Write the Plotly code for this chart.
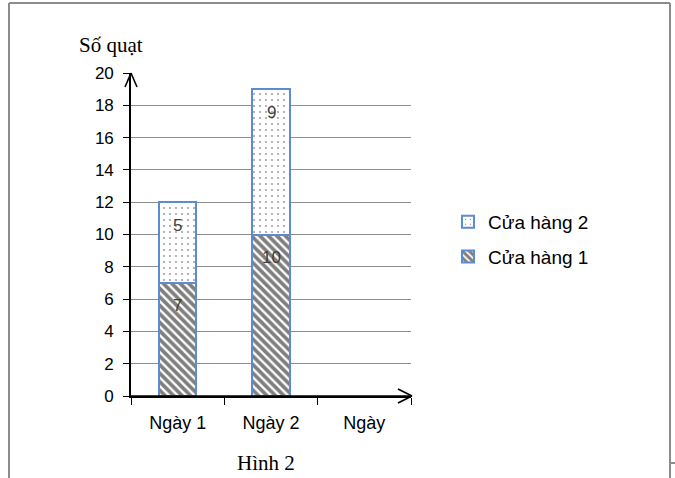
import plotly.graph_objects as go

# ---- data ----
categories = ["Ngày 1", "Ngày 2", "Ngày"]
bar_days = ["Ngày 1", "Ngày 2"]
store1 = [7, 10]
store2 = [5, 9]
series_names = ["Cửa hàng 1", "Cửa hàng 2"]
y_ticks = list(range(0, 21, 2))
y_title = "Số quạt"
caption = "Hình 2"

# ---- geometry (pixels) ----
W, H = 675, 478
L, R, T, B = 131, 411, 73, 396


def px(x):
    return (x - L) / (R - L)


def py(y):
    return (B - y) / (B - T)


edge = "#5B8BD0"
sans = "Liberation Sans, Arial, sans-serif"
serif = "Liberation Serif, Times New Roman, serif"

fig = go.Figure()
fig.add_trace(go.Bar(
    x=bar_days, y=store1, name=series_names[0], legendgroup="g1", legendrank=2,
    marker=dict(color="white", line=dict(color=edge, width=2),
                pattern=dict(shape="\\", fgcolor="black", bgcolor="white",
                             size=6, solidity=0.62)),
))
fig.add_trace(go.Bar(
    x=bar_days, y=store2, name=series_names[1], legendgroup="g2", legendrank=1,
    marker=dict(color="white", line=dict(color=edge, width=2),
                pattern=dict(shape=".", fgcolor="#222222", bgcolor="white",
                             size=6, solidity=0.07)),
))

annotations = []
for d, a, b in zip(bar_days, store1, store2):
    annotations.append(dict(x=d, y=a, xref="x", yref="y", text=str(a),
                            showarrow=False, yshift=-23, xanchor="center",
                            font=dict(family=sans, size=17, color="#404040")))
    annotations.append(dict(x=d, y=a + b, xref="x", yref="y", text=str(b),
                            showarrow=False, yshift=-23, xanchor="center",
                            font=dict(family=sans, size=17, color="#404040")))

annotations.append(dict(x=px(111), y=py(45), xref="paper", yref="paper",
                        text=y_title, showarrow=False, xanchor="center", yanchor="middle",
                        font=dict(family=serif, size=21, color="black")))
annotations.append(dict(x=px(266), y=py(463), xref="paper", yref="paper",
                        text=caption, showarrow=False, xanchor="center", yanchor="middle",
                        font=dict(family=serif, size=21, color="black")))

shapes = []
def seg(x0, y0, x1, y1, color="black", width=1.6):
    shapes.append(dict(type="line", xref="paper", yref="paper",
                       x0=px(x0), y0=py(y0), x1=px(x1), y1=py(y1),
                       line=dict(color=color, width=width)))

# axis arrows
seg(131, 73, 125, 87)
seg(131, 73, 137, 87)
seg(131, 396, 412, 396)
seg(412, 396, 398, 389)
seg(412, 396, 398, 403)
# frame
seg(9, 3, 670, 3, "#8c8c8c", 2)
seg(9, 3, 9, 480, "#8c8c8c", 2)
seg(670, 3, 670, 478, "#8c8c8c", 2)
seg(670, 463, 676, 463, "#8c8c8c", 2)

fig.update_layout(
    width=W, height=H,
    margin=dict(l=L, r=W - R, t=T, b=H - B, pad=0),
    paper_bgcolor="white", plot_bgcolor="white",
    barmode="stack", bargap=0.6,
    showlegend=True,
    legend=dict(x=px(448), y=py(203), xanchor="left", yanchor="top",
                traceorder="grouped", tracegroupgap=7,
                font=dict(family=sans, size=19, color="black"),
                bgcolor="rgba(0,0,0,0)"),
    annotations=annotations,
    shapes=shapes,
    xaxis=dict(type="category", categoryorder="array", categoryarray=categories,
               range=[-0.5, 2.5], showgrid=False, zeroline=False,
               showline=True, linecolor="black", linewidth=1.6,
               ticks="outside", ticklen=7, tickcolor="black", tickwidth=1.3,
               tickson="boundaries", ticklabelstandoff=10,
               tickfont=dict(family=sans, size=18, color="black")),
    yaxis=dict(range=[0, 20], tickvals=y_ticks, showgrid=True,
               gridcolor="#8c8c8c", gridwidth=1, zeroline=False,
               showline=True, linecolor="black", linewidth=1.6,
               ticks="outside", ticklen=6, tickcolor="black", tickwidth=1.3,
               ticklabelstandoff=6,
               tickfont=dict(family=sans, size=17, color="black")),
)

fig.write_html("out.html", config={"displayModeBar": False},
               post_script="document.body.style.margin='0';document.body.style.overflow='hidden';")
